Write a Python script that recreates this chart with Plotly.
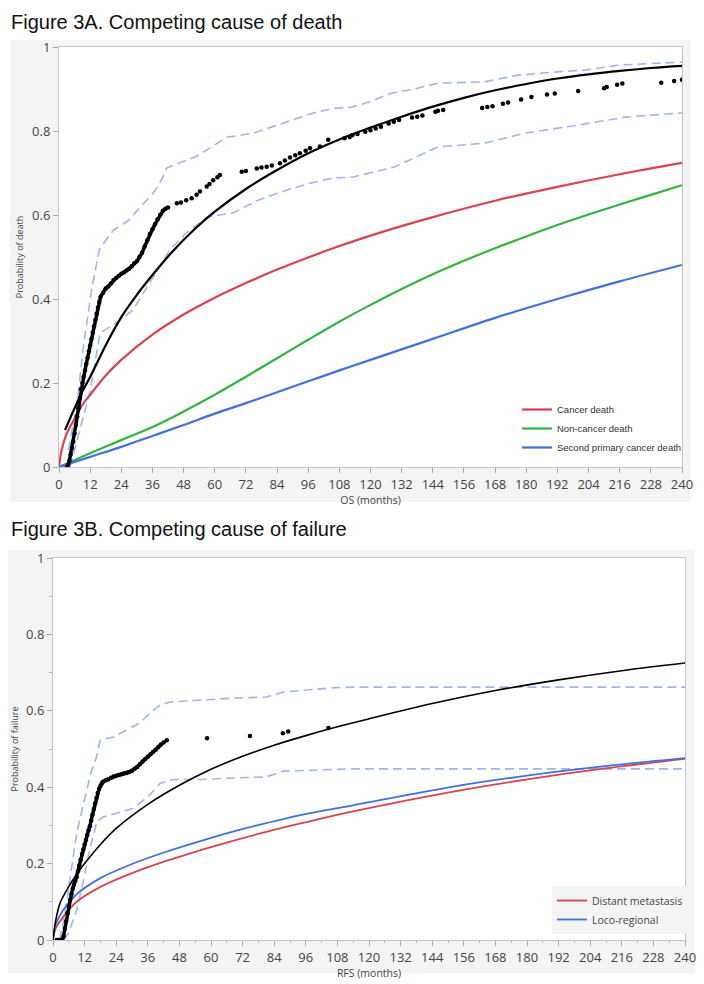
import plotly.graph_objects as go

# ---------------- Figure 3A data (OS, months) ----------------
a_cancer_m = [0, 1, 3, 6, 9, 12, 18, 24, 36, 48, 60, 72, 84, 96, 108, 120, 144, 168, 192, 216, 240]
a_cancer_p = [0, 0.04, 0.08, 0.115, 0.148, 0.172, 0.218, 0.255, 0.315, 0.363, 0.403, 0.438, 0.47, 0.499, 0.526, 0.551, 0.595, 0.634, 0.667, 0.697, 0.724]

a_noncancer_m = [0, 12, 24, 36, 48, 60, 72, 84, 96, 108, 120, 132, 144, 156, 168, 180, 192, 204, 216, 228, 240]
a_noncancer_p = [0, 0.033, 0.064, 0.095, 0.132, 0.172, 0.215, 0.259, 0.303, 0.346, 0.386, 0.424, 0.459, 0.491, 0.521, 0.549, 0.576, 0.601, 0.625, 0.648, 0.671]

a_second_m = [0, 12, 24, 36, 48, 60, 72, 84, 96, 108, 120, 144, 168, 192, 216, 240]
a_second_p = [0, 0.024, 0.048, 0.074, 0.1, 0.127, 0.152, 0.178, 0.204, 0.23, 0.255, 0.305, 0.355, 0.4, 0.442, 0.481]

a_overall_m = [2.3, 6, 9, 12, 18, 24, 30, 36, 44, 52, 60, 72, 84, 96, 108, 120, 132, 144, 156, 168, 180, 192, 204, 216, 228, 240]
a_overall_p = [0.088, 0.14, 0.18, 0.214, 0.29, 0.357, 0.41, 0.457, 0.515, 0.565, 0.608, 0.662, 0.707, 0.747, 0.78, 0.808, 0.834, 0.858, 0.879, 0.897, 0.912, 0.925, 0.935, 0.943, 0.95, 0.955]

a_dots_dense_m = [3, 3.5, 4, 4.5, 5, 5.5, 6, 6.5, 7, 7.5, 8, 8.5, 9, 9.5, 10, 10.5, 11, 11.5, 12, 12.5, 13, 13.5, 14, 14.5, 15,
                  15.5, 16, 17, 18, 19, 20, 21, 22, 23, 24, 25, 26, 27, 28, 29, 30, 31, 32, 33, 34, 35, 36, 37, 38, 39, 40, 41, 42]
a_dots_dense_p = [0, 0.005, 0.015, 0.03, 0.045, 0.06, 0.08, 0.1, 0.12, 0.14, 0.165, 0.185, 0.2, 0.215, 0.23, 0.245, 0.26, 0.275, 0.29, 0.305, 0.32, 0.335, 0.35, 0.365, 0.38,
                  0.393, 0.405, 0.415, 0.425, 0.43, 0.437, 0.445, 0.45, 0.455, 0.46, 0.463, 0.468, 0.472, 0.478, 0.485, 0.49, 0.5, 0.51, 0.525, 0.54, 0.555, 0.566, 0.578, 0.59, 0.6, 0.61, 0.615, 0.618]

a_dots_m = [45.4, 47, 49, 51.1, 53, 54.3, 56.9, 58, 59.4, 61, 62, 70.4, 72, 76.2, 78, 80, 82, 85.1, 87, 89, 91, 92.8, 95, 96.7, 100.5, 103.7,
            110, 112, 113, 115, 118, 120, 122, 124, 127, 129, 131, 136, 138, 140, 145, 146, 148,
            163, 165, 167, 171, 173, 178, 182, 188, 191, 200, 210, 211, 215, 217, 232, 237, 240]
a_dots_p = [0.628, 0.63, 0.635, 0.64, 0.648, 0.656, 0.668, 0.674, 0.683, 0.69, 0.695, 0.703, 0.705, 0.711, 0.713, 0.715, 0.718, 0.723, 0.73, 0.737, 0.742, 0.747, 0.753, 0.759, 0.763, 0.779,
            0.783, 0.786, 0.79, 0.793, 0.798, 0.802, 0.806, 0.81, 0.818, 0.822, 0.826, 0.832, 0.834, 0.837, 0.846, 0.848, 0.85,
            0.855, 0.857, 0.859, 0.865, 0.868, 0.875, 0.881, 0.887, 0.889, 0.895, 0.902, 0.905, 0.91, 0.913, 0.915, 0.919, 0.922]

a_ci_up_m = [3.6, 6.8, 9.4, 12.5, 15.5, 18, 21, 24, 27, 30, 34, 36, 38, 40, 41.5, 45, 49, 53, 57, 61, 64.6, 75, 82, 90, 98, 105.7,
             113, 120, 128, 137, 146, 164, 170, 177, 190, 202.6, 215.7, 228, 240]
a_ci_up_p = [0.04, 0.144, 0.286, 0.42, 0.517, 0.54, 0.564, 0.575, 0.588, 0.61, 0.636, 0.65, 0.667, 0.69, 0.712, 0.72, 0.73, 0.74, 0.755, 0.77, 0.785, 0.795, 0.81, 0.826, 0.843, 0.854,
             0.857, 0.87, 0.89, 0.9, 0.914, 0.917, 0.925, 0.933, 0.94, 0.945, 0.957, 0.96, 0.964]

a_ci_lo_m = [4.2, 8, 12, 15.8, 22, 28.5, 35, 42.7, 49, 57, 67, 77, 88, 97, 105.6, 113, 129, 146, 164, 179.5, 200, 212, 218, 240]
a_ci_lo_p = [0, 0.088, 0.18, 0.319, 0.343, 0.374, 0.438, 0.517, 0.557, 0.595, 0.605, 0.636, 0.66, 0.676, 0.688, 0.69, 0.714, 0.762, 0.771, 0.795, 0.814, 0.826, 0.833, 0.843]

# ---------------- Figure 3B data (RFS, months) ----------------
b_overall_m = [0, 1, 2.7, 6, 9, 12, 18, 24, 36, 48, 60, 72, 84, 96, 108, 120, 144, 168, 192, 216, 240]
b_overall_p = [0, 0.05, 0.097, 0.14, 0.172, 0.2, 0.25, 0.292, 0.355, 0.405, 0.447, 0.481, 0.51, 0.535, 0.558, 0.579, 0.619, 0.653, 0.681, 0.705, 0.725]

b_distant_m = [0, 1, 3.8, 9, 18, 30, 43, 56, 68, 81, 94, 113.5, 151.5, 180.7, 209.6, 240]
b_distant_p = [0, 0.03, 0.06, 0.1, 0.139, 0.175, 0.207, 0.235, 0.259, 0.283, 0.305, 0.336, 0.388, 0.421, 0.449, 0.474]

b_loco_m = [0, 1, 3.8, 9, 18, 30, 43, 56, 68, 81, 94, 113.5, 151.5, 180.7, 209.6, 240]
b_loco_p = [0, 0.04, 0.078, 0.12, 0.162, 0.199, 0.231, 0.259, 0.283, 0.306, 0.327, 0.352, 0.401, 0.431, 0.455, 0.476]

b_dots_dense_m = [1.4, 2, 2.5, 3, 3.5, 4, 4.5, 5, 5.5, 6, 6.5, 7, 7.5, 8, 8.5, 9, 9.5, 10, 10.5, 11, 11.5, 12, 12.5, 13, 13.5, 14, 14.5, 15,
                  15.5, 16, 16.5, 17, 17.5, 18, 18.5, 19, 20, 21, 22, 23, 24, 25, 26, 27, 28, 29, 30, 31, 32, 33, 34, 35, 36, 37, 38, 39, 40, 41]
b_dots_dense_p = [0, 0, 0, 0, 0, 0.01, 0.03, 0.05, 0.07, 0.088, 0.105, 0.12, 0.135, 0.145, 0.155, 0.165, 0.18, 0.195, 0.21, 0.225, 0.237, 0.25, 0.262, 0.275, 0.287, 0.298, 0.313, 0.328,
                  0.343, 0.358, 0.372, 0.385, 0.395, 0.403, 0.41, 0.414, 0.418, 0.421, 0.425, 0.428, 0.43, 0.432, 0.434, 0.436, 0.437, 0.44, 0.443, 0.448, 0.453, 0.46, 0.467, 0.474, 0.48, 0.486, 0.492, 0.498, 0.505, 0.512]

b_dots_m = [42, 43.2, 58.5, 74.8, 87.3, 89.3, 104.6]
b_dots_p = [0.517, 0.523, 0.528, 0.534, 0.541, 0.546, 0.555]

b_ci_up_m = [2.5, 4, 5.3, 7, 9, 11, 12.8, 14.5, 16.6, 17.9, 22.8, 28, 33, 36.8, 40.6, 44.4, 55.8, 68, 81, 87.3, 106, 113.5, 240]
b_ci_up_p = [0, 0.05, 0.105, 0.19, 0.28, 0.34, 0.393, 0.44, 0.48, 0.524, 0.531, 0.55, 0.568, 0.594, 0.615, 0.623, 0.628, 0.633, 0.636, 0.649, 0.66, 0.662, 0.662]

b_ci_lo_m = [4, 6, 8, 9, 11.4, 13.9, 16.6, 19, 24.1, 30.5, 36.8, 40.6, 45.6, 56, 68, 81, 87.3, 113.5, 240]
b_ci_lo_p = [0, 0.02, 0.06, 0.077, 0.15, 0.235, 0.309, 0.322, 0.332, 0.345, 0.38, 0.41, 0.42, 0.42, 0.424, 0.427, 0.442, 0.448, 0.448]

x_ticks = list(range(0, 241, 12))
y_ticks = [0, 0.2, 0.4, 0.6, 0.8, 1]

RED = "#d9434f"
GREEN = "#33b340"
BLUE = "#4170e0"
CI = "#9fb6ee"

# The page body has an 8px margin; size the figure so it fits the 704x984 window.
OFF = 8
W, H = 704 - OFF, 984 - OFF


def px(x):
    return (x - OFF) / W


def py(y):
    return 1 - (y - OFF) / H


fig = go.Figure()


def add(x, y, xa, ya, **kw):
    fig.add_trace(go.Scatter(x=x, y=y, xaxis=xa, yaxis=ya, hoverinfo="skip", **kw))


# ---- Panel A ----
ci_line = dict(color=CI, width=1.6, dash="9px,5px")
add(a_ci_up_m, a_ci_up_p, "x", "y", mode="lines", line=ci_line, showlegend=False)
add(a_ci_lo_m, a_ci_lo_p, "x", "y", mode="lines", line=ci_line, showlegend=False)
add(a_cancer_m, a_cancer_p, "x", "y", mode="lines", line=dict(color=RED, width=2.2, shape="spline"),
    name="Cancer death", legend="legend")
add(a_noncancer_m, a_noncancer_p, "x", "y", mode="lines", line=dict(color=GREEN, width=2.2, shape="spline"),
    name="Non-cancer death", legend="legend")
add(a_second_m, a_second_p, "x", "y", mode="lines", line=dict(color=BLUE, width=2.2, shape="spline"),
    name="Second primary cancer death", legend="legend")
add(a_overall_m, a_overall_p, "x", "y", mode="lines", line=dict(color="black", width=2.2, shape="spline"), showlegend=False)
add(a_dots_dense_m, a_dots_dense_p, "x", "y", mode="lines+markers", line=dict(color="black", width=3.5),
    marker=dict(color="black", size=4.5), showlegend=False)
add(a_dots_m, a_dots_p, "x", "y", mode="markers", marker=dict(color="black", size=4.5), showlegend=False)

# ---- Panel B ----
add(b_ci_up_m, b_ci_up_p, "x2", "y2", mode="lines", line=ci_line, showlegend=False)
add(b_ci_lo_m, b_ci_lo_p, "x2", "y2", mode="lines", line=ci_line, showlegend=False)
add(b_distant_m, b_distant_p, "x2", "y2", mode="lines", line=dict(color=RED, width=1.8, shape="spline"),
    name="Distant metastasis", legend="legend2")
add(b_loco_m, b_loco_p, "x2", "y2", mode="lines", line=dict(color=BLUE, width=1.8, shape="spline"),
    name="Loco-regional", legend="legend2")
add(b_overall_m, b_overall_p, "x2", "y2", mode="lines", line=dict(color="black", width=1.6, shape="spline"), showlegend=False)
add(b_dots_dense_m, b_dots_dense_p, "x2", "y2", mode="lines+markers", line=dict(color="black", width=3.5),
    marker=dict(color="black", size=4.5), showlegend=False)
add(b_dots_m, b_dots_p, "x2", "y2", mode="markers", marker=dict(color="black", size=4.5), showlegend=False)

TICKFONT = dict(family="Open Sans, Noto Sans, sans-serif", size=13, color="#444")
TITLEFONT_Y = dict(family="Open Sans, sans-serif", size=9, color="#444")
TITLEFONT_X = dict(family="Open Sans, sans-serif", size=10.5, color="#444")


def xaxis(domain, anchor, title, minor):
    d = dict(domain=domain, anchor=anchor, range=[0, 240], tickvals=x_ticks, ticks="outside", ticklen=5,
             tickcolor="#aaa", showgrid=False, zeroline=False, showline=True, linecolor="#c4c4c4",
             linewidth=1, mirror=True, tickfont=TICKFONT, automargin=False,
             title=dict(text=title, font=TITLEFONT_X, standoff=2))
    if minor:
        d["minor"] = dict(dtick=6, ticks="outside", ticklen=2, tickcolor="#bbb")
    return d


def yaxis(domain, anchor, title, minor):
    d = dict(domain=domain, anchor=anchor, range=[0, 1], tickvals=y_ticks, ticks="outside", ticklen=5,
             tickcolor="#aaa", showgrid=False, zeroline=False, showline=True, linecolor="#c4c4c4",
             linewidth=1, mirror=True, tickfont=TICKFONT, automargin=False,
             title=dict(text=title, font=TITLEFONT_Y, standoff=6))
    if minor:
        d["minor"] = dict(dtick=0.1, ticks="outside", ticklen=3, tickcolor="#bbb")
    return d


fig.update_layout(
    width=W, height=H, margin=dict(l=0, r=0, t=0, b=0, autoexpand=False),
    paper_bgcolor="white", plot_bgcolor="white",
    xaxis=xaxis([px(59), px(682)], "y", "OS (months)", False),
    yaxis=yaxis([py(467), py(47)], "x", "Probability of death", False),
    xaxis2=xaxis([px(53), px(685)], "y2", "RFS (months)", True),
    yaxis2=yaxis([py(940), py(558)], "x2", "Probability of failure", True),
    legend=dict(x=px(517), y=py(462), xanchor="left", yanchor="bottom", bgcolor="rgba(255,255,255,0)",
                font=dict(family="Liberation Sans, Arial, sans-serif", size=9.5, color="#333"),
                itemwidth=30, tracegroupgap=0),
    legend2=dict(x=px(552), y=py(934), xanchor="left", yanchor="bottom", bgcolor="#f4f4f4",
                 font=dict(family="Open Sans, sans-serif", size=10.5, color="#444"),
                 itemwidth=30, tracegroupgap=0),
    shapes=[
        dict(type="rect", xref="paper", yref="paper", x0=px(10), x1=px(690), y0=py(502), y1=py(40),
             fillcolor="#f4f4f4", line=dict(width=0), layer="below"),
        dict(type="rect", xref="paper", yref="paper", x0=px(8), x1=px(695), y0=py(973), y1=py(550),
             fillcolor="#f4f4f4", line=dict(width=0), layer="below"),
        dict(type="rect", xref="x domain", yref="y domain", x0=0, x1=1, y0=0, y1=1,
             fillcolor="white", line=dict(width=0), layer="below"),
        dict(type="rect", xref="x2 domain", yref="y2 domain", x0=0, x1=1, y0=0, y1=1,
             fillcolor="white", line=dict(width=0), layer="below"),
    ],
    annotations=[
        dict(text="Figure 3A. Competing cause of death", xref="paper", yref="paper", x=px(9), y=py(9),
             xanchor="left", yanchor="top", showarrow=False,
             font=dict(family="Liberation Sans, Arial, sans-serif", size=20, color="#111")),
        dict(text="Figure 3B. Competing cause of failure", xref="paper", yref="paper", x=px(9), y=py(516),
             xanchor="left", yanchor="top", showarrow=False,
             font=dict(family="Liberation Sans, Arial, sans-serif", size=20, color="#111")),
    ],
)

fig.write_html("out.html")
